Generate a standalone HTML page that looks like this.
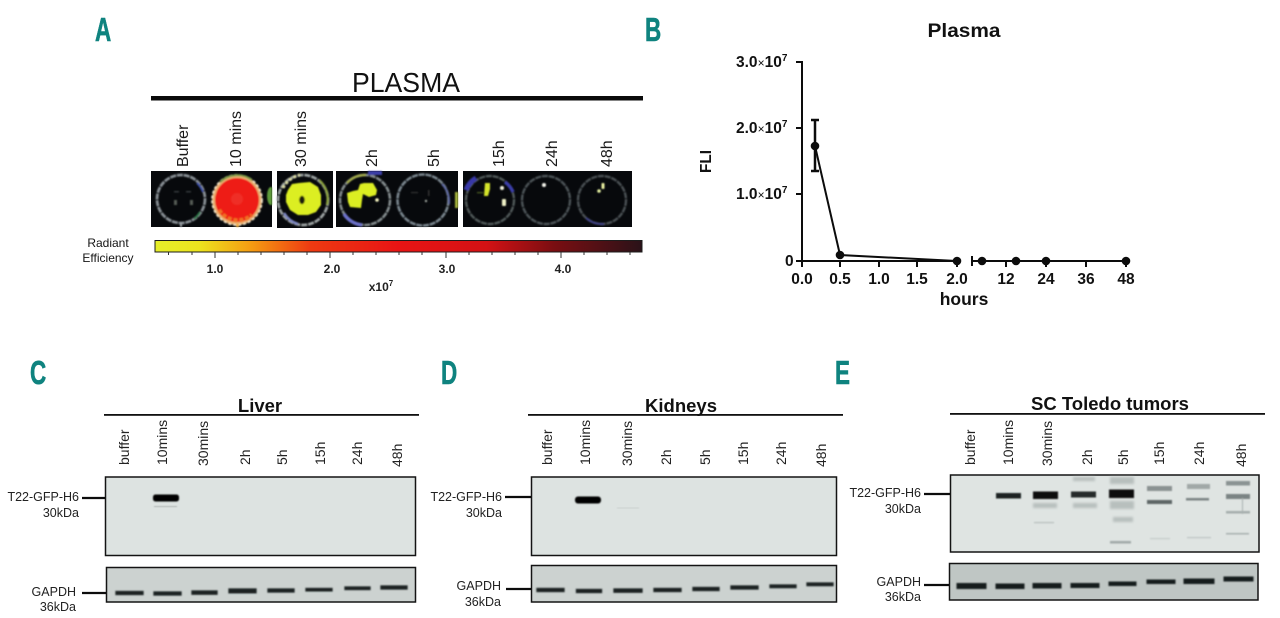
<!DOCTYPE html>
<html>
<head>
<meta charset="utf-8">
<title>Plasma and tissue fluorescence</title>
<style>
html,body{margin:0;padding:0;background:#fff;width:1280px;height:618px;overflow:hidden}
svg{display:block}
text{font-family:"Liberation Sans",Arial,sans-serif;fill:#151515}
.b{font-weight:bold}
.let{font-weight:bold;font-size:33px;fill:#0f837f;stroke:#0f837f;stroke-width:.6px}
.rot{font-size:14px;fill:#222}
.rotA{font-size:16px;fill:#1a1a1a}
.lab{font-size:12.5px;fill:#222}
.tt{font-size:18.5px;font-weight:bold;text-anchor:middle;fill:#111}
.ax{font-size:15.5px;font-weight:bold;text-anchor:middle;fill:#111}
.ay{font-size:15.5px;font-weight:bold;fill:#111}
.cb{font-size:12px;font-weight:bold;text-anchor:middle;fill:#222}
</style>
</head>
<body>
<svg width="1280" height="618" viewBox="0 0 1280 618" xmlns="http://www.w3.org/2000/svg">
<defs>
<linearGradient id="cbar" x1="0" x2="1" y1="0" y2="0">
<stop offset="0" stop-color="#e6ee2a"/>
<stop offset=".09" stop-color="#ece41e"/>
<stop offset=".2" stop-color="#f59a12"/>
<stop offset=".32" stop-color="#ee3a12"/>
<stop offset=".5" stop-color="#e81414"/>
<stop offset=".68" stop-color="#d41214"/>
<stop offset=".82" stop-color="#7a0e12"/>
<stop offset="1" stop-color="#2a1218"/>
</linearGradient>
<filter id="s1" x="-20%" y="-20%" width="140%" height="140%"><feGaussianBlur stdDeviation=".8"/></filter>
<filter id="s3" x="-20%" y="-50%" width="140%" height="200%"><feGaussianBlur stdDeviation="1.4"/></filter>
<filter id="s4" x="-5%" y="-5%" width="110%" height="110%"><feGaussianBlur stdDeviation=".8"/></filter>
<clipPath id="c1"><rect x="151" y="171" width="121" height="56"/></clipPath>
<clipPath id="c3"><rect x="336" y="171" width="122" height="56"/></clipPath>
<clipPath id="c4"><rect x="463" y="171" width="169" height="56"/></clipPath>
</defs>

<!-- letters -->
<text class="let" transform="translate(95 41) scale(.68 1)">A</text>
<text class="let" transform="translate(645 41) scale(.68 1)">B</text>
<text class="let" transform="translate(30 384) scale(.68 1)">C</text>
<text class="let" transform="translate(441 384) scale(.68 1)">D</text>
<text class="let" transform="translate(835 384) scale(.68 1)">E</text>

<!-- Panel A -->
<text x="352" y="92" font-size="28" textLength="108" lengthAdjust="spacingAndGlyphs" style="fill:#111">PLASMA</text>
<rect x="151" y="96" width="492" height="4.500" fill="#0a0a0a"/>

<text class="rotA" transform="translate(188 167) rotate(-90)">Buffer</text>
<text class="rotA" transform="translate(241 167) rotate(-90)">10 mins</text>
<text class="rotA" transform="translate(306 167) rotate(-90)">30 mins</text>
<text class="rotA" transform="translate(377 167) rotate(-90)">2h</text>
<text class="rotA" transform="translate(439 167) rotate(-90)">5h</text>
<text class="rotA" transform="translate(504 167) rotate(-90)">15h</text>
<text class="rotA" transform="translate(557 167) rotate(-90)">24h</text>
<text class="rotA" transform="translate(612 167) rotate(-90)">48h</text>

<!-- well images -->
<rect x="151" y="171" width="121" height="56" fill="#07090c"/>
<rect x="277" y="171" width="56" height="57" fill="#07090c"/>
<rect x="336" y="171" width="122" height="56" fill="#07090c"/>
<rect x="463" y="171" width="169" height="56" fill="#07090c"/>

<g filter="url(#s4)">
<g clip-path="url(#c1)">
<circle cx="181" cy="199" r="24" fill="none" stroke="#858c92" stroke-width="2.800" stroke-dasharray="6 .8"/>
<path d="M197 183A24 24 0 0 1 203 192" fill="none" stroke="#3a4fa8" stroke-width="2"/>
<path d="M200 212A24 24 0 0 1 194 219" fill="none" stroke="#2f7a4a" stroke-width="2"/>
<rect x="174" y="200" width="3" height="5" fill="#555b55"/><rect x="190" y="200" width="3" height="5" fill="#555b55"/>
<rect x="174" y="191" width="5" height="1.500" fill="#33383a"/><rect x="186" y="191" width="5" height="1.500" fill="#33383a"/>
<ellipse cx="271" cy="196" rx="4" ry="9" fill="#5f9c3a"/>
<circle cx="237" cy="200" r="25" fill="#e9b070"/>
<circle cx="237" cy="200" r="25" fill="none" stroke="#f0e4c8" stroke-width="1.800" stroke-dasharray="3 2"/>
<path d="M220 182A25 25 0 0 1 252 180" fill="none" stroke="#7a9a45" stroke-width="2"/>
<circle cx="237" cy="200" r="22" fill="#ee1a14"/>
<path d="M219 210A22 22 0 0 0 252 215" fill="none" stroke="#f07020" stroke-width="4" stroke-dasharray="4 2"/>
<circle cx="237" cy="199" r="6" fill="#f03a30" opacity=".6"/>
<rect x="236" y="224" width="3" height="3" fill="#f0b040"/>
<rect x="180" y="223" width="2" height="4" fill="#9aa0a5"/>
</g>

<circle cx="303" cy="200" r="25" fill="none" stroke="#9aa0a0" stroke-width="2.800" stroke-dasharray="6 1"/>
<path d="M283 188A25 25 0 0 1 300 175" fill="none" stroke="#d8d8a0" stroke-width="3" stroke-dasharray="3 2"/>
<path d="M319 180A25 25 0 0 1 327 205" fill="none" stroke="#8aa03c" stroke-width="2.400"/>
<path d="M284 213A25 25 0 0 0 298 224" fill="none" stroke="#7c85c0" stroke-width="2.600"/>
<polygon points="288,190 292,184 299,183 310,182 318,187 321,195 321,205 316,212 308,215 298,215 290,210 286,202 286,195" fill="#dcee22"/>
<ellipse cx="302" cy="200" rx="2.800" ry="4.200" fill="#1b1c08"/>

<g clip-path="url(#c3)">
<circle cx="365" cy="200" r="25" fill="none" stroke="#828a8c" stroke-width="2.600" stroke-dasharray="6 .8"/>
<path d="M347 183A25 25 0 0 1 366 175" fill="none" stroke="#a0a848" stroke-width="2.400"/>
<path d="M344 214A25 25 0 0 0 362 225" fill="none" stroke="#6a70c8" stroke-width="3.500"/>
<rect x="368" y="171" width="14" height="4" fill="#3a3ea8"/>
<polygon points="347,193 353,191 358,190 360,184 364,183 373,183 377,190 376,195 369,197 363,194 362,200 361,208 350,207 348,202" fill="#dcee22"/>
<circle cx="377" cy="200" r="1.800" fill="#f4f4c0"/>
<circle cx="423" cy="200" r="25.500" fill="none" stroke="#78848c" stroke-width="2.600" stroke-dasharray="6 .8"/>
<path d="M442 184A25 25 0 0 1 449 204" fill="none" stroke="#5c66a0" stroke-width="2"/>
<circle cx="426" cy="201" r="1.200" fill="#a0a8a0"/>
<rect x="411" y="192" width="7" height="1.200" fill="#333"/><rect x="428" y="190" width="1.500" height="6" fill="#333"/>
<rect x="455" y="192" width="3" height="16" fill="#a4b43a"/>
</g>

<g clip-path="url(#c4)">
<circle cx="490" cy="200" r="24" fill="none" stroke="#505858" stroke-width="2.400" stroke-dasharray="6 .8"/>
<path d="M466 190A24 24 0 0 1 476 178" fill="none" stroke="#3838a8" stroke-width="5"/>
<path d="M505 182A24 24 0 0 1 513 192" fill="none" stroke="#3a3ea8" stroke-width="3.500"/>
<polygon points="485,183 490,183 490,189 488,196 484,196" fill="#d4e42a"/>
<circle cx="502" cy="188" r="2" fill="#f2f2e0"/>
<rect x="502" y="199" width="4" height="7" rx="1" fill="#f0f2c8"/>
<rect x="477" y="192" width="6" height="1.300" fill="#4a5a20"/>
<circle cx="546" cy="200" r="24" fill="none" stroke="#4c5256" stroke-width="2.400" stroke-dasharray="6 .8"/>
<circle cx="544" cy="185" r="2" fill="#f4f4ec"/>
<circle cx="602" cy="200" r="24" fill="none" stroke="#4a5052" stroke-width="2.400" stroke-dasharray="6 .8"/>
<path d="M586 218A24 24 0 0 0 604 224" fill="none" stroke="#3c3f84" stroke-width="2"/>
<rect x="601.500" y="183" width="3" height="6" rx="1" fill="#eaf0a0"/>
<circle cx="599" cy="191" r="1.800" fill="#e4f0a0"/>
</g>
</g>

<!-- colour bar -->
<text x="108" y="247" font-size="12" text-anchor="middle" fill="#222">Radiant</text>
<text x="108" y="262" font-size="12" text-anchor="middle" fill="#222">Efficiency</text>
<rect x="155" y="240.500" width="487" height="11.500" fill="url(#cbar)" stroke="#1c1c1c" stroke-width="1"/>
<path d="M168.500 252v3M192 252v3M215 252v6M238 252v3M261 252v3M284 252v3M307 252v3M330 252v6M353 252v3M376 252v3M399 252v3M422 252v3M446 252v6M469 252v3M492 252v3M515 252v3M538 252v3M561 252v6M584 252v3M607 252v3M630 252v3" stroke="#333" stroke-width="1" fill="none"/>
<text class="cb" x="215" y="273">1.0</text>
<text class="cb" x="332" y="273">2.0</text>
<text class="cb" x="447" y="273">3.0</text>
<text class="cb" x="563" y="273">4.0</text>
<text class="cb" x="381" y="291">x10<tspan font-size="8" dy="-5">7</tspan></text>

<!-- Panel B -->
<text x="927.500" y="37" font-size="19" font-weight="bold" textLength="73" lengthAdjust="spacingAndGlyphs" style="fill:#111">Plasma</text>
<text transform="translate(711 173) rotate(-90)" font-size="16" font-weight="bold" textLength="23" lengthAdjust="spacingAndGlyphs" style="fill:#111">FLI</text>
<g fill="none" stroke="#0c0c0c" stroke-width="2">
<path d="M796 62H802V261M796 128H802M796 194H802M796 261H957"/>
<path d="M802 261v6M840 261v6M879 261v6M917 261v6M957 261v6"/>
<path d="M972 261H1126M972 256v10M1006 261v6M1046 261v6M1086 261v6M1126 261v6"/>
<path d="M815 146L840 255L957 261"/>
<path d="M815 120V171M811 120h8M811 171h8" stroke-width="2.500"/>
</g>
<g fill="#0c0c0c">
<circle cx="815" cy="146" r="4.300"/><circle cx="840" cy="255" r="4.300"/><circle cx="957" cy="261" r="4.300"/>
<circle cx="982" cy="261" r="4.300"/><circle cx="1016" cy="261" r="4.300"/><circle cx="1046" cy="261" r="4.300"/><circle cx="1126" cy="261" r="4.300"/>
</g>
<text class="ay" x="736" y="67">3.0<tspan font-size="12" font-weight="normal">×</tspan>10<tspan font-size="10" dy="-6">7</tspan></text>
<text class="ay" x="736" y="133">2.0<tspan font-size="12" font-weight="normal">×</tspan>10<tspan font-size="10" dy="-6">7</tspan></text>
<text class="ay" x="736" y="199">1.0<tspan font-size="12" font-weight="normal">×</tspan>10<tspan font-size="10" dy="-6">7</tspan></text>
<text class="ay" x="785" y="266">0</text>
<text class="ax" x="802" y="284">0.0</text>
<text class="ax" x="840" y="284">0.5</text>
<text class="ax" x="879" y="284">1.0</text>
<text class="ax" x="917" y="284">1.5</text>
<text class="ax" x="957" y="284">2.0</text>
<text class="ax" x="1006" y="284">12</text>
<text class="ax" x="1046" y="284">24</text>
<text class="ax" x="1086" y="284">36</text>
<text class="ax" x="1126" y="284">48</text>
<text x="964" y="305" font-size="17.500" font-weight="bold" text-anchor="middle" style="fill:#111">hours</text>

<!-- Panel C -->
<text class="tt" x="260" y="412">Liver</text>
<rect x="104" y="414" width="315" height="1.800" fill="#111"/>
<text class="rot" transform="translate(129 465) rotate(-90)">buffer</text>
<text class="rot" transform="translate(167 465) rotate(-90)">10mins</text>
<text class="rot" transform="translate(208 466) rotate(-90)">30mins</text>
<text class="rot" transform="translate(250 465) rotate(-90)">2h</text>
<text class="rot" transform="translate(287 465) rotate(-90)">5h</text>
<text class="rot" transform="translate(325 465) rotate(-90)">15h</text>
<text class="rot" transform="translate(362 465) rotate(-90)">24h</text>
<text class="rot" transform="translate(402 467) rotate(-90)">48h</text>
<rect x="105.500" y="477" width="310" height="78.500" fill="#dde3e1" stroke="#141414" stroke-width="1.500"/>
<rect x="153" y="494.500" width="26" height="7" rx="2.500" fill="#050505" filter="url(#s1)"/>
<rect x="154" y="506" width="23" height="1.200" fill="#aab1b0" filter="url(#s1)"/>
<rect x="106.500" y="567.500" width="309" height="34.500" fill="#ccd2d0" stroke="#141414" stroke-width="1.500"/>
<g fill="#1c2222" stroke="#1c2222" stroke-width="1.300" filter="url(#s1)">
<rect x="116" y="591.500" width="27" height="3"/><rect x="154" y="592" width="27" height="3"/><rect x="192" y="591" width="25" height="3.200"/><rect x="229" y="589" width="27" height="3.800"/><rect x="268" y="589" width="26" height="3"/><rect x="306" y="588.500" width="26" height="2.400"/><rect x="345" y="587" width="25" height="2.500"/><rect x="381" y="586" width="26" height="3"/>
</g>
<path d="M82 498H105M82 593H106" stroke="#0c0c0c" stroke-width="2.200" fill="none"/>
<text class="lab" x="79" y="501" text-anchor="end">T22-GFP-H6</text>
<text class="lab" x="79" y="517" text-anchor="end">30kDa</text>
<text class="lab" x="76" y="596" text-anchor="end">GAPDH</text>
<text class="lab" x="76" y="611" text-anchor="end">36kDa</text>

<!-- Panel D -->
<text class="tt" x="681" y="412">Kidneys</text>
<rect x="528" y="414" width="315" height="1.800" fill="#111"/>
<text class="rot" transform="translate(552 465) rotate(-90)">buffer</text>
<text class="rot" transform="translate(590 465) rotate(-90)">10mins</text>
<text class="rot" transform="translate(632 466) rotate(-90)">30mins</text>
<text class="rot" transform="translate(671 465) rotate(-90)">2h</text>
<text class="rot" transform="translate(710 465) rotate(-90)">5h</text>
<text class="rot" transform="translate(748 465) rotate(-90)">15h</text>
<text class="rot" transform="translate(786 465) rotate(-90)">24h</text>
<text class="rot" transform="translate(826 467) rotate(-90)">48h</text>
<rect x="531.500" y="477" width="305" height="78.500" fill="#dde3e1" stroke="#141414" stroke-width="1.500"/>
<rect x="575" y="496.500" width="26" height="7" rx="3" fill="#030303" filter="url(#s1)"/>
<rect x="617" y="507.500" width="22" height="1" fill="#c6cdcb" filter="url(#s1)"/>
<rect x="531.500" y="565.500" width="305" height="36.500" fill="#ccd2d0" stroke="#141414" stroke-width="1.500"/>
<g fill="#1c2222" stroke="#1c2222" stroke-width="1.300" filter="url(#s1)">
<rect x="537" y="588.500" width="27" height="3"/><rect x="576.500" y="589.500" width="25" height="3"/><rect x="614" y="589" width="28" height="3.200"/><rect x="654" y="588.500" width="27" height="3"/><rect x="693" y="587.500" width="26" height="3"/><rect x="731" y="586" width="27" height="3"/><rect x="770" y="585" width="26" height="2.600"/><rect x="807" y="583" width="26" height="2.600"/>
</g>
<path d="M505 497H531M506 589H531" stroke="#0c0c0c" stroke-width="2.200" fill="none"/>
<text class="lab" x="502" y="501" text-anchor="end">T22-GFP-H6</text>
<text class="lab" x="502" y="517" text-anchor="end">30kDa</text>
<text class="lab" x="501" y="590" text-anchor="end">GAPDH</text>
<text class="lab" x="501" y="606" text-anchor="end">36kDa</text>

<!-- Panel E -->
<text class="tt" x="1110" y="410">SC Toledo tumors</text>
<rect x="950" y="413" width="315" height="1.800" fill="#111"/>
<text class="rot" transform="translate(975 465) rotate(-90)">buffer</text>
<text class="rot" transform="translate(1013 465) rotate(-90)">10mins</text>
<text class="rot" transform="translate(1052 466) rotate(-90)">30mins</text>
<text class="rot" transform="translate(1092 465) rotate(-90)">2h</text>
<text class="rot" transform="translate(1128 465) rotate(-90)">5h</text>
<text class="rot" transform="translate(1164 465) rotate(-90)">15h</text>
<text class="rot" transform="translate(1204 465) rotate(-90)">24h</text>
<text class="rot" transform="translate(1246 467) rotate(-90)">48h</text>
<rect x="950.500" y="475" width="308.500" height="77" fill="#dfe4e2" stroke="#141414" stroke-width="1.500"/>
<g filter="url(#s3)" fill="#b8bfbd">
<rect x="1033" y="503" width="24" height="5"/><rect x="1073" y="503" width="24" height="5"/><rect x="1110" y="501" width="24" height="8"/>
<rect x="1110" y="477" width="24" height="7"/><rect x="1073" y="477" width="22" height="4"/><rect x="1113" y="517" width="20" height="5"/>
</g>
<g filter="url(#s1)">
<rect x="996" y="493" width="25" height="5.500" fill="#1c2020"/>
<rect x="1033" y="491.500" width="25" height="7.500" fill="#0b0e0e"/>
<rect x="1071" y="491.500" width="25" height="6" fill="#262b2b"/>
<rect x="1109" y="489.500" width="25" height="8.500" fill="#080a0a"/>
<rect x="1147" y="486" width="25" height="5" fill="#8a9292"/>
<rect x="1147" y="500" width="25" height="4" fill="#5d6666"/>
<rect x="1187" y="484" width="23" height="5" fill="#a0a8a7"/>
<rect x="1186" y="498" width="23" height="2.500" fill="#7a8383"/>
<rect x="1226" y="481" width="24" height="4.500" fill="#8a9393"/>
<rect x="1226" y="494" width="24" height="5" fill="#7a8383"/>
<rect x="1226" y="511" width="24" height="2.500" fill="#a4adac"/>
<rect x="1226" y="533" width="23" height="1.500" fill="#a6afae"/>
<rect x="1110" y="541" width="21" height="2.500" fill="#a0a9a8"/>
<rect x="1187" y="537" width="24" height="1.200" fill="#bcc3c2"/>
<rect x="1150" y="538" width="20" height="1.200" fill="#c4cac9"/>
<rect x="1034" y="522" width="20" height="1.200" fill="#b6bdbc"/>
<rect x="1242" y="498" width="1" height="16" fill="#a8b0af"/>
</g>
<rect x="949.500" y="563.500" width="308.500" height="36.500" fill="#bfc6c4" stroke="#141414" stroke-width="1.500"/>
<g fill="#151a1a" stroke="#151a1a" stroke-width="1" filter="url(#s1)">
<rect x="957" y="583.500" width="29" height="5"/><rect x="996" y="584" width="28" height="4.500"/><rect x="1033" y="583.500" width="28" height="4.500"/><rect x="1071" y="583.500" width="28" height="4"/><rect x="1109" y="582" width="27" height="3.500"/><rect x="1147" y="580" width="28" height="3.500"/><rect x="1184" y="579" width="30" height="4.500"/><rect x="1224" y="577" width="29" height="4"/>
</g>
<path d="M924 494H950M924 585H949" stroke="#0c0c0c" stroke-width="2.200" fill="none"/>
<text class="lab" x="921" y="497" text-anchor="end">T22-GFP-H6</text>
<text class="lab" x="921" y="513" text-anchor="end">30kDa</text>
<text class="lab" x="921" y="586" text-anchor="end">GAPDH</text>
<text class="lab" x="921" y="601" text-anchor="end">36kDa</text>
</svg>
</body>
</html>
